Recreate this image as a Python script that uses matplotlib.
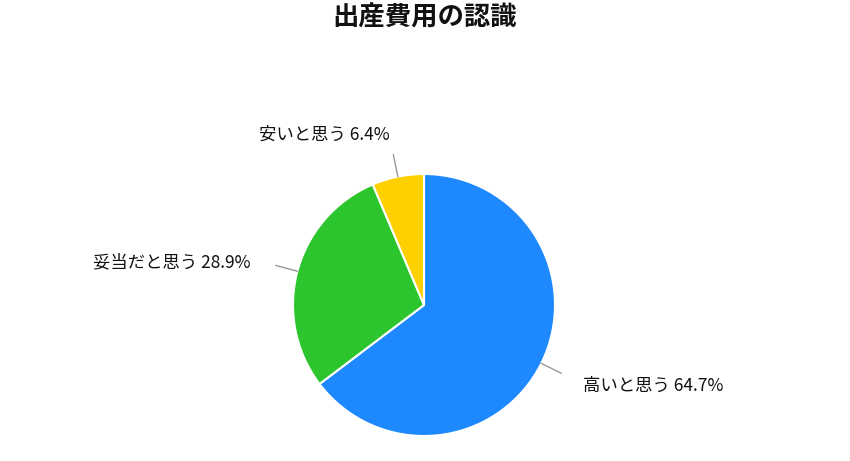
import numpy as np
import matplotlib.pyplot as plt

plt.rcParams['font.family'] = ['Noto Sans CJK JP', 'DejaVu Sans']

# ---------- data ----------
labels = ['高いと思う', '妥当だと思う', '安いと思う']
shares = [64.7, 28.9, 6.4]
colors = ['#1E88FF', '#2DC52D', '#FFD000']
title = '出産費用の認識'

# label offsets from the end of each leader line (pixels)
label_offsets = [(22, -13), (-25, 3), (-4, 20)]
label_align = ['left', 'right', 'right']

W, H = 850, 461
fig = plt.figure(figsize=(W / 100, H / 100), dpi=100)
ax = fig.add_axes([0, 0, 1, 1])

cx, cy, r = 424, H - 305, 131

wedges, _ = ax.pie(shares, colors=colors, startangle=90, counterclock=False,
                   center=(cx, cy), radius=r, frame=True,
                   wedgeprops=dict(edgecolor='white', linewidth=1.5))
ax.set_xlim(0, W)
ax.set_ylim(0, H)
ax.set_aspect('equal')
ax.axis('off')

for w, lab, val, off, ha in zip(wedges, labels, shares, label_offsets, label_align):
    ang = np.deg2rad((w.theta1 + w.theta2) / 2)
    x0, y0 = cx + r * np.cos(ang), cy + r * np.sin(ang)
    x1, y1 = cx + r * 1.17 * np.cos(ang), cy + r * 1.17 * np.sin(ang)
    ax.plot([x0, x1], [y0, y1], color='#999999', lw=1)
    ax.text(x1 + off[0], y1 + off[1], f'{lab} {val}%', ha=ha, va='center',
            fontsize=12.5, color='#111111')

fig.text(0.5, 1 - 18 / H, title, ha='center', va='center',
         fontsize=19, fontweight='bold', color='#111111')

fig.savefig('out.png', dpi=100)
